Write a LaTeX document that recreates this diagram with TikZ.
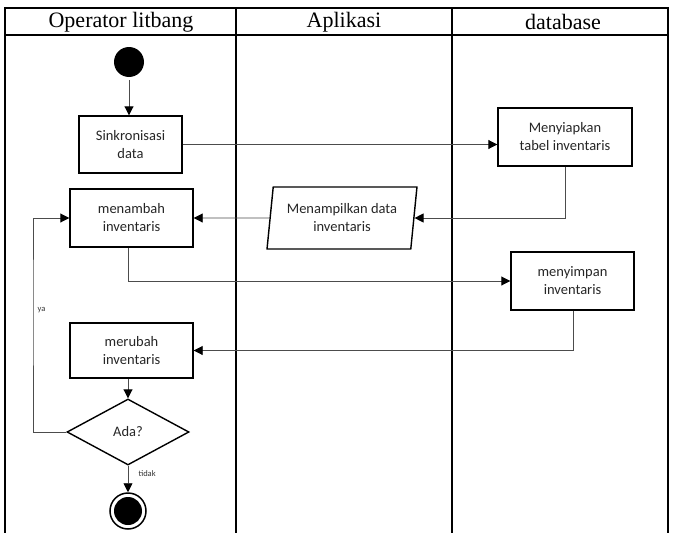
\documentclass[tikz,border=0pt]{standalone}
\usepackage{fontspec}
\setmainfont{Liberation Serif}
\newfontfamily\boxfont{Carlito}
\usetikzlibrary{arrows.meta,shapes.geometric}

\begin{document}
\begin{tikzpicture}[x=1pt,y=-1pt,>={Triangle[length=9pt,width=9pt,color=black]},line join=miter,
  lane/.style={line width=1.6pt},
  act/.style={draw,line width=1.4pt,align=center,inner sep=0pt,text=black!85,
    font=\boxfont\fontsize{14.5}{18}\selectfont},
  flow/.style={->,line width=0.9pt,draw=black!70},
  small/.style={font=\boxfont\fontsize{8.5}{9}\selectfont,text=black!80}]
\useasboundingbox (0,0) rectangle (673,533);
\draw[lane] (5,533) -- (5,8) -- (668,8) -- (668,533);
\draw[lane] (5,35) -- (668,35);
\draw[lane] (236,8) -- (236,533);
\draw[lane] (452,8) -- (452,533);
\node[font=\fontsize{22}{24}\selectfont] (hdr1) at (121,22) {Operator litbang};
\node[font=\fontsize{22}{24}\selectfont] (hdr2) at (344,22) {Aplikasi};
\node[font=\fontsize{22}{24}\selectfont] (hdr3) at (563,22) {database};
\node[fill,circle,minimum size=30pt,inner sep=0pt] (start) at (129,62) {};
\node[act,minimum width=103pt,minimum height=57pt] (sink) at (130.5,144.5) {Sinkronisasi\\data};
\node[act,minimum width=134pt,minimum height=58pt] (siap) at (565,137) {Menyiapkan\\tabel inventaris};
\node[act,trapezium,trapezium left angle=80,trapezium right angle=100,trapezium stretches=true,
  minimum width=150pt,minimum height=62pt] (tampil) at (342,218) {Menampilkan data\\inventaris};
\node[act,minimum width=123pt,minimum height=58pt] (tambah) at (131.5,218) {menambah\\inventaris};
\node[act,minimum width=123pt,minimum height=58pt] (simpan) at (572.5,281) {menyimpan\\inventaris};
\node[act,minimum width=123pt,minimum height=55pt] (ubah) at (131.5,350.5) {merubah\\inventaris};
\node[act,diamond,minimum width=122pt,minimum height=66pt] (ada) at (128,432) {Ada?};
\node[circle,draw,line width=1.5pt,minimum size=36pt,inner sep=0pt] (end) at (128,511) {};
\node[circle,fill,minimum size=28pt,inner sep=0pt] (endin) at (end) {};
\coordinate (loop) at (33,300);
\draw[flow] ([yshift=-3pt]start.south) -- (start.south |- sink.north);
\draw[flow] (sink.east) -- (sink.east -| siap.west);
\draw[flow] (siap.south) |- (tampil.east);
\draw[flow] (tampil.west) -- (tambah.east);
\draw[flow] ([xshift=-3pt]tambah.south) |- (simpan.west);
\draw[flow] ([xshift=1pt]simpan.south) |- (ubah.east);
\draw[flow] (ubah.south -| ada.north) -- (ada.north);
\draw[flow] (ada.west) -| (loop) |- (tambah.west);
\draw[flow] (ada.south) -- (end.north);
\node[small,anchor=west] (ya) at (34,310) {ya};
\node[small,anchor=west] (tidak) at (135,474) {tidak};
\end{tikzpicture}
\end{document}
